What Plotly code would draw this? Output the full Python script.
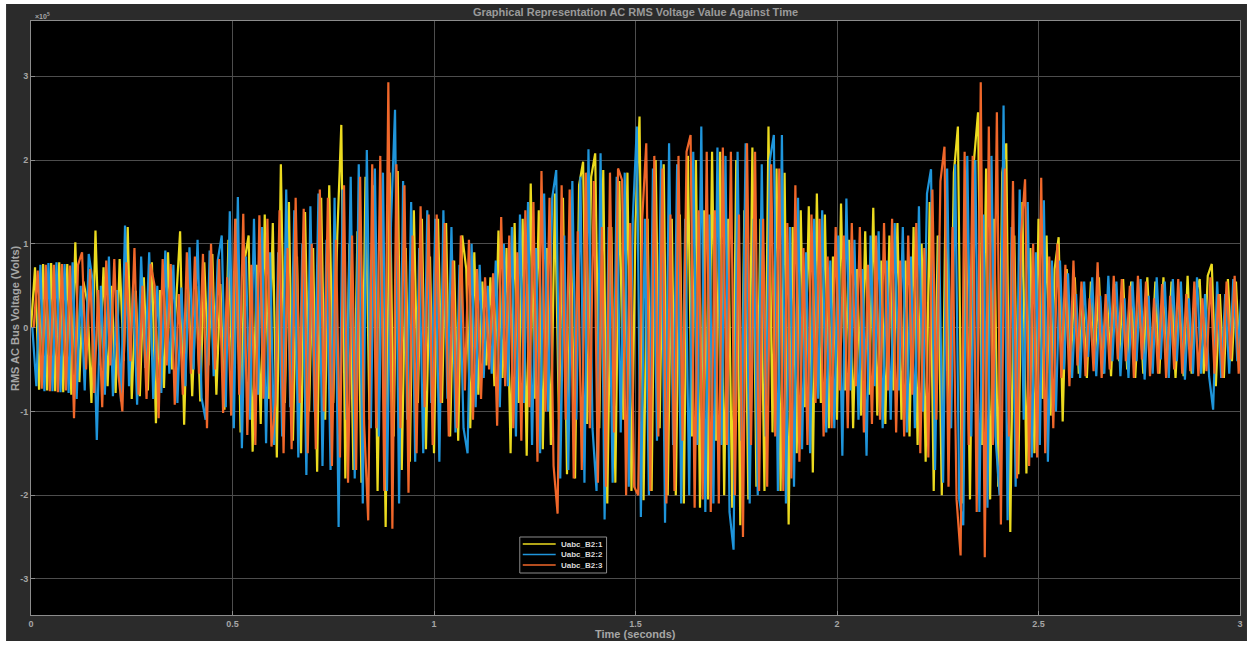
import numpy as np
import plotly.graph_objects as go

# Sample clock for the three phase voltages (s); each phase is logged with a small skew
n_samples = 301
dt = 0.01
t_base = np.round(np.arange(n_samples) * dt, 4)
skew_b = 0.0033
skew_c = 0.0067

# Phase voltages in units of 1e5 V, one row per 0.1 s
uabc_1 = [
    0.0, 0.72, -0.74, 0.76, -0.75, 0.77, -0.76, 0.78, -0.77, 0.76,
    -0.80, 1.02, -0.65, 0.55, 0.30, -0.90, 1.16, -0.45, 0.72, -0.70,
    0.50, -0.78, 0.82, -0.40, 1.20, -0.85, 0.44, -0.82, 0.60, -0.75,
    0.78, -1.14, 0.45, -0.72, 0.90, -0.50, 0.30, 1.15, -1.16, 0.60,
    -0.82, 0.50, -0.88, 0.78, -0.45, 0.88, -0.80, 0.52, -0.98, 1.05,
    -0.70, 1.30, -1.25, 0.80, 1.10, -1.48, 0.75, -1.15, 1.35, -0.85,
    1.25, -1.55, 1.95, -0.90, 1.50, -1.35, 0.85, -1.50, 1.38, -1.00,
    0.95, -1.72, 1.55, -1.10, 1.70, -0.90, 1.10, 2.42, -1.80, 1.00,
    -1.70, 1.15, -1.85, 1.80, -1.10, 1.70, -1.95, 1.20, -2.38, 1.85,
    -1.30, 1.87, -1.70, 0.95, -1.60, 1.40, -0.90, 1.30, -1.45, 0.85,
    -1.50, 1.30, -0.90, 1.25, -1.30, 0.80, -1.35, 1.10, 0.70, -1.20,
    0.90, -0.80, 0.55, -0.45, 0.60, -0.70, 1.16, -0.60, 0.95, -1.50,
    1.25, -0.90, 1.30, -1.53, 1.72, -0.85, 1.40, -1.45, 0.95, -1.40,
    1.60, -1.10, 1.55, -1.75, 1.05, -1.80, 1.70, 1.98, -1.15, 1.80,
    2.08, -1.20, 1.88, -2.10, 1.20, -1.85, 1.75, -1.10, 1.85, -1.95,
    1.25, 2.52, -2.06, 1.30, -1.95, 2.00, -1.20, 1.95, -2.00, 1.30,
    -2.00, 1.35, -2.10, 2.05, -1.30, 2.00, -2.15, 1.40, -2.05, 2.10,
    -1.35, 2.10, -2.00, 1.30, -2.15, 2.00, -2.36, 1.40, -2.05, 2.15,
    -1.90, 1.30, -1.95, 2.40, -1.25, 1.90, -1.95, 1.85, -2.35, 1.20,
    -1.50, 1.40, -0.95, 1.45, -1.73, 1.60, -0.90, 1.35, -1.20, 0.85,
    -1.10, 1.48, -0.75, 1.05, -1.20, 0.70, -1.05, 1.15, -0.80, 1.43,
    -1.05, 0.80, -1.15, 1.10, -0.75, 1.25, -1.10, 0.80, -1.30, 1.20,
    -1.40, 1.00, -1.60, 1.50, -1.95, 1.10, -2.00, 1.75, -1.20, 1.85,
    2.40, -2.10, 1.30, -2.05, 2.00, 2.57, -1.40, 1.90, -2.05, 1.30,
    -1.90, 1.85, 2.20, -2.44, 1.10, -1.75, 1.50, -1.74, 0.95, -1.50,
    1.30, -0.85, 1.10, -1.05, 0.70, 1.08, -1.12, 0.70, -0.45, 0.60,
    -0.55, 0.35, -0.60, 0.55, -0.40, 0.60, -0.55, 0.38, -0.58, 0.52,
    -0.40, 0.58, -0.50, 0.55, -0.60, 0.35, -0.55, 0.60, -0.38, 0.55,
    -0.55, 0.60, -0.40, 0.55, -0.60, 0.35, -0.58, 0.62, -0.55, 0.40,
    0.58, -0.55, 0.62, 0.76, -0.70, 0.40, -0.60, 0.58, -0.40, 0.55,
    -0.50,
]

uabc_2 = [
    0.0, -0.70, 0.75, -0.76, 0.77, -0.76, 0.78, -0.77, 0.76, -0.78,
    0.78, -0.85, 0.50, -0.75, 0.88, 0.55, -1.34, 0.50, -0.80, 0.85,
    -0.82, 0.45, -0.88, 1.22, -0.70, 0.50, -0.92, 0.85, -0.48, 0.90,
    -0.85, 0.50, -0.78, 0.92, -0.55, 0.75, -0.90, 0.48, -0.70, 0.96,
    -0.50, 1.05, -0.84, -1.10, 0.92, -0.58, 0.80, 1.10, -0.95, 1.39,
    -1.20, 1.56, -1.44, 0.85, -1.10, 1.30, -0.80, 1.20, -1.38, 0.90,
    -1.40, 0.90, -1.30, 1.65, -0.95, 1.40, -1.55, 1.00, -1.76, 1.45,
    -1.00, 1.60, -1.65, 1.05, -1.70, 1.55, -2.38, 1.65, -1.10, 1.80,
    -1.80, 1.95, -2.10, 2.12, -1.20, 1.90, -1.30, 1.85, -1.95, 1.25,
    2.60, -2.10, 1.75, -1.10, 1.50, -1.60, 0.95, -1.50, 1.40, -0.90,
    1.30, -1.60, 1.40, -0.85, 1.20, -1.25, 0.75, -1.20, -1.50, 1.00,
    -0.95, 0.75, -0.60, 0.50, -0.55, 0.80, -0.95, 1.00, -0.70, 1.20,
    -1.30, 1.35, -0.90, 1.50, -1.40, 0.95, -1.50, 1.60, -1.00, 1.55,
    1.88, -1.80, 1.10, -1.70, 1.75, -1.10, 1.80, -1.85, 2.13, -1.20,
    -1.95, 2.08, -2.29, 1.20, -1.85, 1.80, -1.25, 1.85, -1.90, 1.30,
    2.40, -2.26, 1.30, -2.00, 1.90, -1.35, 2.00, -2.33, 2.20, -1.40,
    1.95, -2.10, 1.30, -2.00, 2.10, -1.40, 2.40, -2.20, 1.35, -2.10,
    2.15, -1.40, 2.05, -2.20, -2.65, 2.10, -1.35, 2.20, -2.10, 1.30,
    -2.00, 1.95, -1.30, 2.00, 2.30, -1.95, 2.30, -2.10, 1.20, -1.90,
    1.55, -1.45, 0.90, -1.50, 1.30, -0.85, 1.40, -1.25, 0.80, -1.20,
    1.10, -1.53, 1.54, -0.75, 1.05, -1.10, 0.70, -1.53, 1.10, -0.70,
    1.15, -1.20, 0.80, -1.10, 1.25, -0.75, 1.20, -1.25, 0.85, -1.20,
    1.45, -1.00, 1.60, 1.89, -1.70, 1.10, -1.85, 1.90, -1.20, 1.95,
    -2.05, -2.36, 2.05, -1.30, 2.00, -2.20, 1.35, -2.15, 2.05, -1.30,
    -2.00, 2.65, -2.30, 1.20, -1.90, 1.65, -1.10, 1.50, -1.55, 0.90,
    -1.40, 1.52, -1.60, 0.80, -1.00, 0.80, -0.50, 0.65, -0.60, 0.40,
    -0.60, 0.55, -0.35, 0.60, -0.58, 0.38, -0.55, 0.62, -0.40, 0.55,
    -0.58, 0.35, -0.60, 0.55, -0.40, 0.58, -0.62, 0.38, -0.55, 0.60,
    -0.38, 0.55, -0.60, 0.58, -0.40, 0.55, -0.62, 0.35, -0.55, 0.60,
    -0.55, 0.40, -0.58, -0.98, 0.55, -0.60, 0.40, -0.55, 0.58, -0.40,
    0.40,
]

uabc_3 = [
    0.0, 0.68, -0.73, 0.75, -0.76, 0.75, -0.77, 0.76, -0.75, 0.74,
    -1.08, 0.75, 0.90, -0.50, 0.70, -0.78, 0.45, -0.95, 0.80, -0.45,
    0.82, -0.55, -1.00, 0.78, -0.40, 0.95, -0.80, 0.50, -0.85, 0.76,
    0.50, -1.08, 0.82, -0.45, 0.76, -0.92, 0.40, -0.80, 0.90, -0.55,
    0.85, -0.55, 0.88, -1.20, 1.00, -0.50, 0.82, -1.02, 0.60, -1.05,
    1.30, -0.80, 1.36, -1.28, 0.75, -1.40, 1.34, -0.85, 1.30, -1.42,
    -0.90, 1.40, -1.50, 0.95, -1.45, 1.55, -0.90, 1.42, -1.50, 1.00,
    -1.45, 1.65, -1.00, 1.55, -1.65, 1.05, -1.55, 1.70, -1.85, 1.10,
    -1.70, 1.80, -1.15, -2.30, 1.95, -1.20, 2.05, -1.95, 2.93, -2.40,
    1.95, -1.20, 1.70, -1.97, 1.10, -1.50, 1.45, -0.95, 1.35, -1.40,
    1.35, -0.90, 1.25, -1.30, 0.80, -1.20, 1.10, -0.75, 1.05, -1.10,
    0.70, -0.85, 0.60, -0.50, 0.65, -1.17, 1.32, -0.70, 1.10, -1.20,
    0.90, -1.35, 1.40, -0.95, 1.50, -1.60, 1.87, -1.00, 1.55, -1.65,
    -2.22, 1.70, -1.10, 1.65, -1.80, 1.15, -1.70, 1.85, -1.20, 1.75,
    -1.85, 1.20, -1.90, 1.85, -1.25, 1.90, 1.76, -2.00, 1.25, -1.90,
    -2.00, 1.30, 2.20, -1.95, 2.05, -1.30, 1.90, -2.10, 1.35, -1.95,
    2.05, -1.35, 2.10, 2.30, -2.15, 1.40, -2.05, 2.10, -2.20, 1.40,
    -2.10, 2.15, -1.40, 2.10, -2.00, 1.35, -2.50, 2.20, -1.40, 2.10,
    -1.95, 1.30, -1.90, 1.95, -1.30, 1.90, -1.95, 1.25, -1.80, 1.70,
    -1.60, 0.95, -1.40, 1.35, -0.90, 1.30, -1.30, 0.85, -1.20, 1.20,
    -0.75, 1.10, -1.20, 1.25, -0.70, 1.20, -1.25, 0.75, -1.15, 1.10,
    -1.10, 1.25, -0.75, 1.30, -1.25, 0.80, -1.30, 1.10, -0.80, 1.25,
    -1.50, 0.95, -1.55, 1.65, -1.10, 1.75, 2.16, -1.90, 1.20, -2.05,
    -2.72, 2.10, -1.40, 2.05, -2.20, 2.93, -2.74, 2.40, -1.40, 2.57,
    -2.35, 1.90, -1.30, 1.75, -1.80, 1.10, 1.77, -1.65, 1.00, -1.55,
    1.79, -1.50, 0.85, -1.20, 1.00, -0.60, 0.75, -0.70, 0.80, -0.45,
    0.55, -0.58, 0.35, -0.52, 0.78, -0.60, 0.40, -0.50, 0.62, -0.38,
    0.58, -0.40, 0.50, -0.60, 0.62, -0.38, 0.55, -0.58, 0.35, -0.55,
    0.52, -0.60, 0.38, -0.50, 0.58, -0.55, 0.40, -0.52, 0.55, -0.58,
    0.35, -0.52, 0.60, -0.55, 0.40, -0.60, 0.55, -0.38, 0.62, -0.55,
    0.30,
]

series_names = ["Uabc_B2:1", "Uabc_B2:2", "Uabc_B2:3"]
series_colors = ["#ecdb1f", "#1f95db", "#f0672a"]
series_times = [t_base, t_base + skew_b, t_base + skew_c]
series_values = [uabc_1, uabc_2, uabc_3]

y_ticks = [-3, -2, -1, 0, 1, 2, 3]
x_ticks = [0, 0.5, 1, 1.5, 2, 2.5, 3]
x_ticklabels = ["0", "0.5", "1", "1.5", "2", "2.5", "3"]

fig = go.Figure()
for name, color, tt, vv in zip(series_names, series_colors, series_times, series_values):
    fig.add_trace(go.Scatter(
        x=tt, y=vv, mode="lines", name=name,
        line=dict(color=color, width=2.2),
    ))

W, H = 1253, 645
L, R, T, B = 31, 10, 21, 30
pw, ph = W - L - R, H - T - B


def px_x(px):
    return (px - L) / pw


def px_y(py):
    return (H - B - py) / ph


label_color = "#a6a6a6"
font_family = "Liberation Sans, Arial, sans-serif"

shapes = [
    # dark frame behind the whole axes
    dict(type="rect", xref="paper", yref="paper", layer="below",
         x0=px_x(6), x1=px_x(1250), y0=px_y(641), y1=px_y(4),
         fillcolor="#2b2b2b", line=dict(width=0)),
    dict(type="rect", xref="paper", yref="paper", layer="below",
         x0=0, x1=1, y0=0, y1=1,
         fillcolor="black", line=dict(width=0)),
    # legend box
    dict(type="rect", xref="paper", yref="paper", layer="above",
         x0=px_x(521), x1=px_x(608), y0=px_y(573), y1=px_y(537),
         fillcolor="black", line=dict(color="#8c8c8c", width=1)),
]

annotations = [
    dict(text="<b>RMS AC Bus Voltage (Volts)</b>", xref="paper", yref="paper",
         x=px_x(15), y=px_y(318), textangle=-90, showarrow=False,
         xanchor="center", yanchor="middle",
         font=dict(size=11, color=label_color, family=font_family)),
    dict(text="<b>Time (seconds)</b>", xref="paper", yref="paper",
         x=px_x(637), y=px_y(634), showarrow=False,
         xanchor="center", yanchor="middle",
         font=dict(size=11, color=label_color, family=font_family)),
    dict(text="<b>×10<sup>5</sup></b>", xref="paper", yref="paper",
         x=px_x(33), y=px_y(16), showarrow=False,
         xanchor="left", yanchor="middle",
         font=dict(size=7, color=label_color, family=font_family)),
]

# legend entries: coloured sample line plus series name
legend_rows_px = [544, 554.5, 565]
for name, color, row in zip(series_names, series_colors, legend_rows_px):
    shapes.append(dict(type="line", xref="paper", yref="paper", layer="above",
                       x0=px_x(524), x1=px_x(557), y0=px_y(row), y1=px_y(row),
                       line=dict(color=color, width=1.5)))
    annotations.append(dict(text=f"<b>{name}</b>", xref="paper", yref="paper",
                            x=px_x(560), y=px_y(row), showarrow=False,
                            xanchor="left", yanchor="middle",
                            font=dict(size=8, color="#d9d9d9", family=font_family)))

fig.update_layout(
    width=W, height=H,
    margin=dict(l=L, r=R, t=T, b=B, pad=0),
    paper_bgcolor="white",
    plot_bgcolor="black",
    font=dict(family=font_family, color=label_color, size=10),
    title=dict(
        text="<b>Graphical Representation AC RMS Voltage Value Against Time</b>",
        x=px_x(637), xref="paper", xanchor="center",
        y=1 - 12 / H, yanchor="middle",
        font=dict(size=11, color="#9a9a9a", family=font_family),
    ),
    showlegend=False,
    shapes=shapes,
    annotations=annotations,
)

fig.update_xaxes(
    range=[0, 3], tickvals=x_ticks, ticktext=[f"<b>{s}</b>" for s in x_ticklabels],
    showgrid=True, gridcolor="#4d4d4d", gridwidth=1, zeroline=False,
    showline=True, linecolor="#8c8c8c", linewidth=1, mirror=True,
    ticks="inside", ticklen=4, tickcolor="#8c8c8c",
    tickfont=dict(size=9, color=label_color, family=font_family),
)
fig.update_yaxes(
    range=[-3.43, 3.66], tickvals=y_ticks, ticktext=[f"<b>{v}</b>" for v in y_ticks],
    showgrid=True, gridcolor="#4d4d4d", gridwidth=1, zeroline=False,
    showline=True, linecolor="#8c8c8c", linewidth=1, mirror=True,
    ticks="inside", ticklen=4, tickcolor="#8c8c8c",
    tickfont=dict(size=9, color=label_color, family=font_family),
)

fig.write_html("out.html")
